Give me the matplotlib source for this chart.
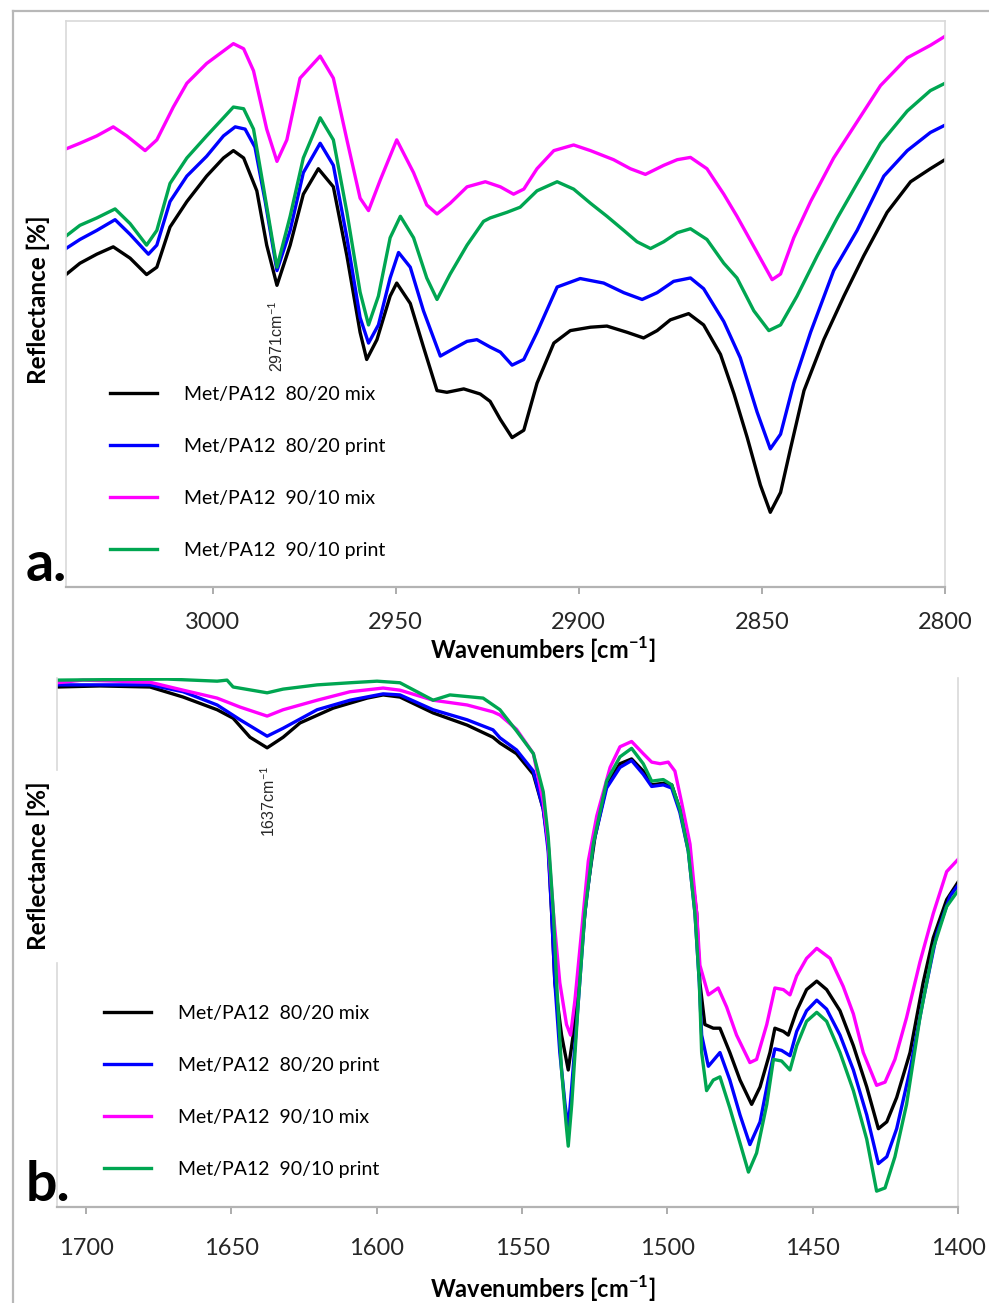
import matplotlib
matplotlib.use("Agg")
import matplotlib.pyplot as plt
from matplotlib.lines import Line2D

plt.rcParams["font.family"] = ["Lato", "DejaVu Sans"]
plt.rcParams["mathtext.fontset"] = "custom"
plt.rcParams["mathtext.rm"] = "Lato"
plt.rcParams["mathtext.bf"] = "Lato:bold"

LABELS = [
    "Met/PA12  80/20 mix",
    "Met/PA12  80/20 print",
    "Met/PA12  90/10 mix",
    "Met/PA12  90/10 print",
]
COLORS = ["#000000", "#0000ff", "#ff00ff", "#00a651"]

# --- panel a: 3040-2800 cm-1 (C-H stretching) ---
wn_a_mix80 = [3040, 3036.2, 3031.6, 3027.1, 3022.5, 3018.0, 3015.2, 3011.6, 3007.0, 3001.6,
              2997.0, 2994.3, 2991.5, 2987.9, 2985.2, 2982.4, 2978.8, 2975.2, 2971.1, 2967.0,
              2963.3, 2959.7, 2957.9, 2955.1, 2951.5, 2949.7, 2946.0, 2942.4, 2938.7, 2936.0,
              2931.4, 2926.9, 2924.2, 2921.4, 2918.2, 2915.0, 2911.4, 2906.8, 2902.3, 2896.8,
              2892.3, 2886.8, 2882.3, 2878.6, 2875.0, 2870.0, 2865.9, 2861.3, 2857.6, 2854.0,
              2850.4, 2847.7, 2844.9, 2842.2, 2838.5, 2833.1, 2827.6, 2822.2, 2815.8, 2809.4,
              2804.0, 2800]
r_a_mix80 = [55.2, 57.2, 58.8, 60.1, 58.1, 55.2, 56.5, 63.6, 68.1, 72.6,
             75.8, 77.1, 75.8, 70.0, 60.4, 53.3, 60.4, 69.4, 73.9, 70.7,
             58.5, 45.0, 40.2, 43.7, 51.4, 53.7, 50.1, 42.4, 34.7, 34.4,
             35.0, 34.1, 32.8, 29.6, 26.4, 27.7, 36.0, 43.1, 45.3, 45.9,
             46.1, 45.0, 44.0, 45.3, 47.2, 48.3, 46.3, 41.1, 34.1, 26.4,
             18.0, 13.2, 16.7, 24.4, 34.7, 43.7, 51.4, 58.5, 66.2, 71.6,
             73.9, 75.5]

wn_a_print80 = [3040, 3036.2, 3031.6, 3026.6, 3022.5, 3017.5, 3015.2, 3011.6, 3007.0, 3001.6,
                2997.0, 2993.8, 2991.1, 2988.4, 2985.6, 2982.4, 2978.8, 2975.2, 2970.6, 2967.0,
                2963.3, 2959.7, 2957.4, 2954.7, 2951.5, 2949.2, 2946.0, 2942.4, 2937.8, 2934.2,
                2930.5, 2927.8, 2924.2, 2921.4, 2918.2, 2915.0, 2911.4, 2905.9, 2899.6, 2893.2,
                2887.7, 2882.7, 2878.6, 2874.1, 2869.5, 2865.9, 2860.4, 2855.9, 2851.3, 2847.7,
                2844.9, 2841.3, 2836.7, 2830.4, 2824.0, 2816.7, 2810.3, 2804.0, 2800]
r_a_print80 = [59.8, 61.4, 63.0, 64.9, 62.3, 58.8, 60.4, 68.1, 72.6, 76.1,
               79.7, 81.3, 80.9, 77.7, 68.1, 55.9, 63.0, 73.2, 78.4, 74.5,
               61.7, 47.6, 43.1, 46.3, 54.6, 59.1, 56.5, 48.8, 40.8, 42.1,
               43.4, 43.7, 42.4, 41.5, 39.2, 40.2, 45.0, 53.0, 54.5, 53.7,
               52.0, 50.8, 52.0, 54.0, 54.6, 52.7, 46.9, 40.5, 30.9, 24.4,
               27.0, 36.0, 45.0, 55.9, 63.0, 72.6, 77.1, 80.3, 81.6]

wn_a_mix90 = [3040, 3036.2, 3031.6, 3027.1, 3023.4, 3018.4, 3015.2, 3010.7, 3007.0, 3001.6,
              2994.3, 2991.5, 2988.8, 2985.2, 2982.4, 2979.7, 2976.1, 2970.6, 2967.0, 2963.3,
              2959.7, 2957.4, 2954.2, 2949.7, 2945.1, 2941.5, 2938.7, 2935.1, 2930.5, 2925.5,
              2921.4, 2917.8, 2915.0, 2911.4, 2906.8, 2901.4, 2896.8, 2890.5, 2885.9, 2881.8,
              2876.8, 2873.1, 2869.5, 2865.0, 2860.4, 2856.8, 2851.3, 2847.2, 2844.9, 2841.3,
              2836.7, 2830.4, 2824.0, 2817.6, 2810.3, 2804.0, 2800]
r_a_mix90 = [77.4, 78.4, 79.7, 81.3, 79.7, 77.1, 79.0, 84.8, 89.0, 92.5,
             96.0, 95.1, 91.2, 80.9, 75.2, 79.0, 89.9, 93.8, 89.9, 79.0,
             68.7, 66.5, 71.9, 79.0, 73.2, 67.5, 65.9, 67.8, 70.7, 71.6,
             70.7, 69.4, 70.3, 73.9, 77.1, 78.1, 77.1, 75.5, 73.9, 72.9,
             74.5, 75.5, 75.9, 73.9, 69.4, 65.5, 59.1, 54.3, 55.3, 61.7,
             68.1, 75.8, 82.2, 88.6, 93.5, 95.7, 97.3]

wn_a_print90 = [3040, 3036.2, 3031.6, 3026.6, 3022.5, 3018.0, 3015.2, 3011.6, 3007.0, 3001.6,
                2997.0, 2994.3, 2991.5, 2988.8, 2986.1, 2982.4, 2978.8, 2975.2, 2970.6, 2967.0,
                2963.3, 2959.7, 2957.4, 2954.7, 2951.5, 2948.7, 2945.1, 2941.5, 2938.7, 2935.1,
                2930.5, 2926.0, 2924.2, 2919.6, 2916.0, 2911.4, 2905.9, 2901.4, 2896.8, 2892.3,
                2887.7, 2884.1, 2880.4, 2876.8, 2873.1, 2869.5, 2865.0, 2860.4, 2856.8, 2852.2,
                2848.1, 2844.9, 2840.4, 2834.9, 2829.4, 2824.0, 2817.6, 2810.3, 2804.0, 2800]
r_a_print90 = [62.0, 63.9, 65.2, 66.8, 64.2, 60.4, 63.0, 71.3, 75.8, 79.7,
               82.9, 84.8, 84.5, 80.9, 70.7, 56.5, 65.5, 75.8, 82.9, 79.0,
               66.2, 52.1, 46.3, 51.4, 61.7, 65.5, 61.7, 54.6, 50.8, 55.3,
               60.4, 64.6, 65.2, 66.2, 67.1, 70.0, 71.6, 70.3, 67.8, 65.5,
               63.0, 61.0, 59.8, 61.0, 62.6, 63.3, 61.4, 57.2, 54.6, 48.8,
               45.3, 46.3, 51.4, 58.5, 65.2, 71.3, 78.4, 84.1, 87.7, 89.0]

# --- panel b: 1710-1400 cm-1 (amide region) ---
wn_b_mix80 = [1710, 1695.2, 1678.0, 1666.6, 1654.9, 1649.4, 1643.6, 1637.7, 1632.2, 1626.4,
              1615.0, 1603.3, 1597.8, 1592.0, 1580.6, 1568.9, 1560.0, 1557.6, 1551.9, 1546.1,
              1542.7, 1541.0, 1539.8, 1538.7, 1536.4, 1534.1, 1532.4, 1530.1, 1527.8, 1524.9,
              1520.9, 1516.3, 1512.3, 1508.3, 1505.4, 1501.4, 1498.5, 1495.7, 1492.8, 1489.9,
              1488.8, 1487.1, 1484.2, 1481.9, 1478.5, 1475.0, 1471.0, 1468.1, 1464.7, 1463.0,
              1460.1, 1458.4, 1455.5, 1452.1, 1448.6, 1445.2, 1440.6, 1436.0, 1431.4, 1427.4,
              1424.5, 1421.1, 1416.5, 1412.0, 1408.5, 1403.9, 1400]
r_b_mix80 = [98.3, 98.5, 98.3, 96.4, 94.0, 92.4, 88.8, 86.8, 88.8, 91.5,
             94.3, 96.2, 96.8, 96.4, 93.4, 91.1, 88.8, 87.7, 85.7, 81.8,
             75.2, 68.6, 55.5, 42.4, 32.5, 25.9, 32.5, 45.7, 58.8, 70.0,
             79.8, 83.8, 84.7, 82.4, 79.8, 80.1, 79.8, 75.2, 68.6, 55.5,
             42.4, 34.5, 33.8, 33.8, 29.2, 24.0, 19.4, 22.7, 29.2, 33.8,
             33.2, 32.5, 37.1, 41.1, 42.7, 41.1, 37.1, 30.5, 22.7, 14.8,
             16.1, 20.7, 29.2, 42.4, 50.9, 58.1, 61.4]

wn_b_print80 = [1710, 1678.0, 1666.6, 1654.9, 1647.0, 1637.7, 1632.2, 1620.5, 1609.2, 1597.8,
                1592.0, 1580.6, 1568.9, 1560.0, 1557.6, 1551.9, 1546.1, 1542.7, 1541.0, 1539.8,
                1538.7, 1537.0, 1535.2, 1534.1, 1532.9, 1530.6, 1528.4, 1525.5, 1520.9, 1516.3,
                1512.3, 1508.3, 1505.4, 1501.4, 1498.5, 1495.7, 1492.8, 1490.5, 1489.0, 1488.2,
                1485.9, 1481.9, 1478.5, 1475.0, 1471.6, 1468.1, 1465.3, 1463.0, 1460.7, 1457.8,
                1455.5, 1452.1, 1448.6, 1445.2, 1440.6, 1436.0, 1431.4, 1427.4, 1424.5, 1421.1,
                1416.5, 1412.0, 1407.3, 1402.7, 1400]
r_b_print80 = [98.7, 98.7, 97.4, 94.9, 92.1, 89.0, 90.5, 94.0, 95.8, 97.0,
               96.8, 94.0, 92.1, 90.2, 88.7, 86.4, 82.4, 75.2, 67.3, 55.5,
               42.4, 29.2, 19.4, 14.8, 22.7, 39.1, 55.5, 68.6, 79.2, 83.1,
               84.4, 81.8, 79.5, 79.8, 79.2, 74.6, 67.3, 55.5, 42.4, 32.5,
               26.6, 29.2, 24.0, 17.4, 11.8, 16.1, 24.0, 29.9, 29.6, 28.6,
               33.2, 37.1, 39.1, 37.4, 32.5, 25.9, 17.4, 8.2, 9.5, 14.8,
               25.9, 39.1, 51.6, 58.8, 60.8]

wn_b_mix90 = [1710, 1701.1, 1678.0, 1666.6, 1654.9, 1647.0, 1637.7, 1632.2, 1620.5, 1609.2,
              1597.8, 1592.0, 1580.6, 1568.9, 1560.0, 1557.6, 1551.9, 1546.1, 1542.7, 1541.0,
              1539.2, 1537.0, 1534.7, 1533.3, 1531.8, 1529.5, 1527.2, 1524.3, 1519.7, 1516.3,
              1512.3, 1508.3, 1505.4, 1502.5, 1499.7, 1497.4, 1495.1, 1492.2, 1489.9, 1488.8,
              1485.9, 1482.5, 1479.6, 1476.2, 1471.6, 1469.3, 1465.8, 1463.0, 1460.1, 1457.8,
              1455.5, 1452.1, 1448.6, 1444.0, 1439.5, 1436.0, 1432.6, 1428.0, 1425.1, 1421.7,
              1417.7, 1413.1, 1408.5, 1403.9, 1400]
r_b_mix90 = [99.1, 99.6, 99.2, 97.7, 96.2, 94.5, 92.8, 94.0, 95.8, 97.4,
             98.1, 97.7, 95.8, 94.9, 93.6, 93.0, 90.3, 85.7, 76.5, 68.6,
             55.5, 42.4, 34.5, 32.5, 39.1, 52.2, 65.4, 73.9, 83.1, 87.0,
             88.0, 85.7, 84.1, 83.8, 84.1, 82.4, 76.5, 68.6, 55.5, 45.7,
             40.1, 41.4, 37.8, 32.5, 27.3, 27.9, 34.5, 41.4, 41.1, 40.1,
             43.7, 47.0, 48.9, 47.0, 41.7, 36.5, 29.2, 23.0, 23.6, 27.9,
             35.8, 46.3, 55.5, 63.4, 65.7]

wn_b_print90 = [1710, 1672.1, 1654.9, 1651.5, 1649.4, 1637.7, 1632.2, 1620.5, 1609.2, 1599.9,
                1592.0, 1580.6, 1574.8, 1563.4, 1557.6, 1551.9, 1546.1, 1542.7, 1541.0, 1539.2,
                1538.1, 1536.4, 1534.9, 1534.1, 1532.9, 1530.6, 1528.4, 1525.5, 1520.9, 1516.3,
                1512.3, 1508.3, 1505.4, 1501.4, 1498.5, 1495.7, 1492.8, 1490.5, 1489.0, 1488.2,
                1486.5, 1484.2, 1481.9, 1478.5, 1475.0, 1472.1, 1469.3, 1465.8, 1463.5, 1460.7,
                1457.8, 1455.5, 1452.1, 1448.6, 1445.2, 1440.6, 1436.0, 1431.4, 1428.0, 1425.1,
                1421.7, 1417.7, 1413.1, 1408.5, 1403.9, 1400]
r_b_print90 = [99.6, 99.8, 99.4, 99.6, 98.3, 97.2, 97.9, 98.7, 99.1, 99.4,
               99.1, 95.8, 96.8, 96.2, 94.0, 90.0, 85.7, 78.5, 70.0, 55.5,
               42.4, 25.9, 16.1, 11.5, 19.4, 39.1, 55.5, 68.6, 80.5, 85.1,
               86.7, 83.8, 80.5, 80.8, 79.8, 75.2, 67.3, 55.5, 42.4, 29.2,
               22.0, 24.0, 24.6, 18.7, 12.1, 6.6, 10.2, 19.4, 27.9, 27.6,
               25.9, 30.5, 35.1, 36.8, 35.1, 29.2, 22.0, 12.8, 3.0, 3.6,
               9.5, 19.4, 35.8, 48.9, 56.8, 59.8]

TICKS_A = [3000, 2950, 2900, 2850, 2800]
TICKS_B = [1700, 1650, 1600, 1550, 1500, 1450, 1400]

W, H = 989, 1303


def fx(px):
    return px / W


def fy(py):
    return 1 - py / H


def add_axes_px(fig, left, top, right, bottom):
    return fig.add_axes([fx(left), fy(bottom), (right - left) / W, (bottom - top) / H])


def style_axes(ax, xlim, ticks, pad):
    ax.set_xlim(*xlim)
    ax.set_ylim(0, 100)
    ax.set_xticks(ticks)
    ax.set_yticks([])
    ax.tick_params(axis="x", direction="out", length=5, width=1.3, color="#a6a6a6",
                   labelsize=17, labelcolor="#262626", pad=pad)
    for side in ["top", "right", "left"]:
        ax.spines[side].set_color("#d9d9d9")
        ax.spines[side].set_linewidth(1.2)
    ax.spines["bottom"].set_color("#b3b3b3")
    ax.spines["bottom"].set_linewidth(1.6)


def add_legend(ax, left_px, top_px):
    ax.legend(loc="upper left", bbox_to_anchor=(fx(left_px), fy(top_px)),
              bbox_transform=ax.figure.transFigure, frameon=False, fontsize=14,
              handlelength=2.4, handletextpad=1.4, labelspacing=1.8,
              borderpad=0, borderaxespad=0)


fig = plt.figure(figsize=(W / 100, H / 100), dpi=100)

series_a = [(wn_a_mix80, r_a_mix80), (wn_a_print80, r_a_print80),
            (wn_a_mix90, r_a_mix90), (wn_a_print90, r_a_print90)]
series_b = [(wn_b_mix80, r_b_mix80), (wn_b_print80, r_b_print80),
            (wn_b_mix90, r_b_mix90), (wn_b_print90, r_b_print90)]

# panel a
ax_a = add_axes_px(fig, 66, 21, 945, 587)
for (x, y), color, label in zip(series_a, COLORS, LABELS):
    ax_a.plot(x, y, color=color, lw=2.4, label=label)
style_axes(ax_a, (3040, 2800), TICKS_A, pad=13)
ax_a.text(2982.6, 44.2, "2971cm$^{-1}$", rotation=90, ha="center", va="center",
          fontsize=11.5, family="Liberation Sans", color="#262626")
add_legend(ax_a, 110, 386)

# panel b
ax_b = add_axes_px(fig, 57, 678, 958, 1207)
for (x, y), color, label in zip(series_b, COLORS, LABELS):
    ax_b.plot(x, y, color=color, lw=2.4, label=label)
style_axes(ax_b, (1710, 1400), TICKS_B, pad=17)
ax_b.spines["top"].set_visible(False)
ax_b.spines["left"].set_visible(False)
# left spine broken where the axis title sits
for y0, y1 in [(0, 0.461), (0.826, 1.0)]:
    ax_b.plot([0, 0], [y0, y1], transform=ax_b.transAxes, color="#d9d9d9",
              lw=1.2, clip_on=False)
ax_b.text(1637.4, 76.7, "1637cm$^{-1}$", rotation=90, ha="center", va="center",
          fontsize=11.5, family="Liberation Sans", color="#262626")
add_legend(ax_b, 104, 1005)

# axis titles and panel letters
xlabel = r"Wavenumbers [cm$^{\mathbf{-1}}$]"
fig.text(fx(543), fy(650), xlabel, ha="center", va="center", fontsize=17, fontweight="bold")
fig.text(fx(543), fy(1289), xlabel, ha="center", va="center", fontsize=17, fontweight="bold")
fig.text(fx(38), fy(300), "Reflectance [%]", rotation=90, ha="center", va="center",
         fontsize=17.5, fontweight="bold")
fig.text(fx(38), fy(866), "Reflectance [%]", rotation=90, ha="center", va="center",
         fontsize=17.5, fontweight="bold")
fig.text(fx(26), fy(581), "a.", ha="left", va="baseline", fontsize=40, fontweight="bold")
fig.text(fx(26), fy(1201), "b.", ha="left", va="baseline", fontsize=40, fontweight="bold")

# outer frame
frame_kw = dict(transform=fig.transFigure, color="#b8b8b8", lw=1.6)
fig.add_artist(Line2D([fx(13), fx(13)], [fy(11), 0], **frame_kw))
fig.add_artist(Line2D([fx(13), 1], [fy(11), fy(11)], **frame_kw))

fig.savefig("out.png", dpi=100, facecolor="white")
